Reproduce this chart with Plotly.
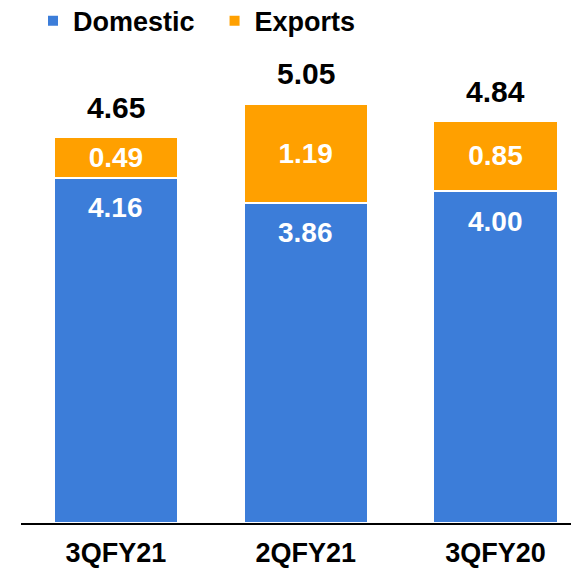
import plotly.graph_objects as go

# ── Data ──────────────────────────────────────────────────────────────────────
quarters = ["3QFY21", "2QFY21", "3QFY20"]
domestic = [4.16, 3.86, 4.00]
exports  = [0.49, 1.19, 0.85]
totals   = [4.65, 5.05, 4.84]

BLUE   = "#3C7DD9"
ORANGE = "#FFA000"
FAMILY = "Liberation Sans, Arial, sans-serif"
FONT   = dict(family=FAMILY, color="#000000")

fig = go.Figure()
fig.add_trace(go.Bar(
    name="<b>Domestic</b>\u00a0\u00a0", x=quarters, y=domestic,
    marker=dict(color=BLUE, line=dict(color="white", width=2)),
    width=0.655,
))
fig.add_trace(go.Bar(
    name="<b>Exports</b>", x=quarters, y=exports,
    marker=dict(color=ORANGE, line=dict(color="white", width=2)),
    width=0.655,
    text=[f"<b>{v:.2f}</b>" for v in exports],
    textposition="inside", insidetextanchor="middle",
    textfont=dict(size=28, color="white", family=FAMILY),
    textangle=0,
))

# domestic labels sit near the top of the blue segment
for q, d in zip(quarters, domestic):
    fig.add_annotation(
        x=q, y=d, text=f"<b>{d:.2f}</b>", showarrow=False,
        yanchor="middle", yshift=-30,
        font=dict(size=28, color="white", family=FAMILY),
    )

# totals above each stack
for q, t in zip(quarters, totals):
    fig.add_annotation(
        x=q, y=t, text=f"<b>{t:.2f}</b>", showarrow=False,
        yanchor="middle", yshift=30,
        font=dict(size=30, **FONT),
    )

# page body has an 8px margin, so the figure is sized to end at the window edge
fig.update_layout(
    barmode="stack",
    width=571, height=563,
    paper_bgcolor="white", plot_bgcolor="white",
    font=FONT,
    margin=dict(l=13, r=0, t=52, b=48, autoexpand=False),
    showlegend=True,
    legend=dict(
        orientation="h", x=0.0215, xanchor="left", y=1.084, yanchor="middle",
        font=dict(size=27, **FONT), bgcolor="rgba(0,0,0,0)",
        itemwidth=30, traceorder="normal",
    ),
    xaxis=dict(
        range=[-0.5, 2.44], showline=True, linecolor="#000000", linewidth=2,
        showgrid=False, ticks="", tickfont=dict(size=27, **FONT),
        ticklabelstandoff=5,
        tickvals=quarters, ticktext=[f"<b>{q}</b>" for q in quarters],
    ),
    yaxis=dict(range=[0, 5.58], visible=False, showgrid=False),
)

fig.write_html("out.html")
